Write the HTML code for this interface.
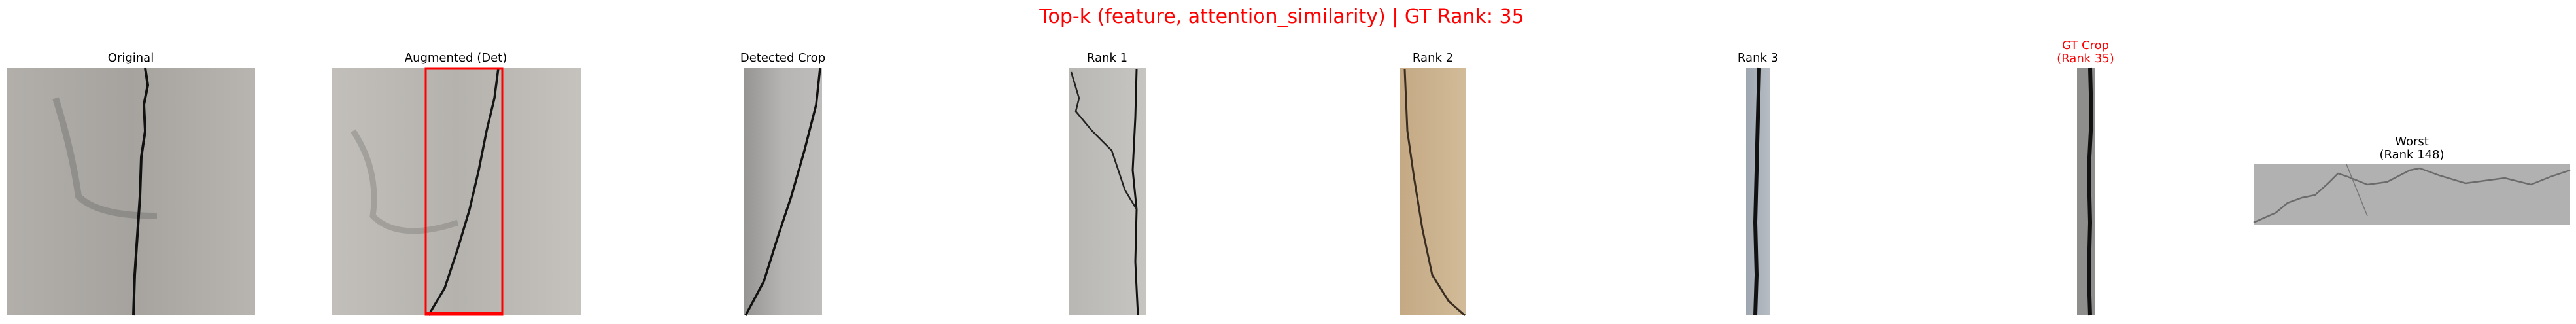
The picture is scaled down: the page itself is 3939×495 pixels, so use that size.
<!DOCTYPE html>
<html><head><meta charset="utf-8"><style>
html,body{margin:0;padding:0;background:#fff;}
svg{display:block;}
text{font-family:"DejaVu Sans","Liberation Sans",sans-serif;}
</style></head><body>
<svg width="3939" height="495" viewBox="0 0 3939 495">
<defs>
<linearGradient id="gOrig" x1="0" x2="1"><stop offset="0" stop-color="#b2afab"/><stop offset="0.5" stop-color="#a6a39f"/><stop offset="1" stop-color="#b8b5b1"/></linearGradient>
<linearGradient id="gAug" x1="0" x2="1"><stop offset="0" stop-color="#c2bfba"/><stop offset="0.5" stop-color="#b5b2ad"/><stop offset="1" stop-color="#c5c2bd"/></linearGradient>
<linearGradient id="gDet" x1="0" x2="1"><stop offset="0" stop-color="#959492"/><stop offset="0.5" stop-color="#b6b5b3"/><stop offset="1" stop-color="#bebdbb"/></linearGradient>
<linearGradient id="gR1" x1="0" x2="1"><stop offset="0" stop-color="#b8b7b3"/><stop offset="1" stop-color="#c6c5c1"/></linearGradient>
<linearGradient id="gR2" x1="0" x2="1"><stop offset="0" stop-color="#c4a984"/><stop offset="1" stop-color="#d2bb98"/></linearGradient>
<linearGradient id="gR3" x1="0" x2="1"><stop offset="0" stop-color="#9ea6b0"/><stop offset="1" stop-color="#b6bcc3"/></linearGradient>
</defs>

<text x="1960" y="35" font-size="30" fill="#ff0000" text-anchor="middle">Top-k (feature, attention_similarity) | GT Rank: 35</text>

<g>
<text x="200" y="94" font-size="18" text-anchor="middle">Original</text>
<rect x="10" y="104" width="380" height="378" fill="url(#gOrig)"/>
<path d="M85,150 Q110,230 120,300 Q150,330 240,330" stroke="#6a6866" stroke-width="10" fill="none" opacity="0.4"/>
<path d="M222,104 L226,130 L220,160 L222,200 L216,240 L214,300 L210,360 L206,420 L204,482" stroke="#111" stroke-width="4" fill="none"/>
</g>

<g>
<text x="697" y="94" font-size="18" text-anchor="middle">Augmented (Det)</text>
<rect x="507" y="104" width="381" height="378" fill="url(#gAug)"/>
<path d="M540,200 Q580,260 570,330 Q610,370 700,340" stroke="#7a7875" stroke-width="9" fill="none" opacity="0.4"/>
<path d="M762,104 L756,150 L744,200 L732,260 L718,320 L700,380 L680,440 L655,482" stroke="#151515" stroke-width="3.5" fill="none"/>
<rect x="651" y="105" width="117" height="376" fill="none" stroke="#ff0000" stroke-width="3"/>
<rect x="650" y="477" width="119" height="5" fill="#ff0000"/>
</g>

<g>
<text x="1197" y="94" font-size="18" text-anchor="middle">Detected Crop</text>
<rect x="1137" y="104" width="120" height="378" fill="url(#gDet)"/>
<path d="M1254,104 L1248,160 L1230,230 L1210,300 L1190,360 L1168,430 L1140,482" stroke="#111" stroke-width="3.5" fill="none"/>
</g>

<g>
<text x="1693" y="94" font-size="18" text-anchor="middle">Rank 1</text>
<rect x="1634" y="104" width="118" height="378" fill="url(#gR1)"/>
<path d="M1738,106 L1736,180 L1732,260 L1738,320 L1736,400 L1740,482" stroke="#111" stroke-width="3" fill="none"/>
<path d="M1638,110 L1650,150 L1645,170 L1670,200 L1700,230 L1720,290 L1738,320" stroke="#222" stroke-width="2.5" fill="none"/>
</g>

<g>
<text x="2191" y="94" font-size="18" text-anchor="middle">Rank 2</text>
<rect x="2141" y="104" width="100" height="378" fill="url(#gR2)"/>
<path d="M2148,106 L2152,200 L2162,270 L2175,350 L2190,420 L2215,460 L2240,482" stroke="#3a2e22" stroke-width="3" fill="none"/>
</g>

<g>
<text x="2688" y="94" font-size="18" text-anchor="middle">Rank 3</text>
<rect x="2670" y="104" width="36" height="378" fill="url(#gR3)"/>
<path d="M2690,104 L2688,180 L2686,260 L2684,340 L2686,420 L2684,482" stroke="#111" stroke-width="6" fill="none"/>
</g>

<g>
<text x="3189" y="75" font-size="18" fill="#ff0000" text-anchor="middle">GT Crop</text>
<text x="3189" y="95" font-size="18" fill="#ff0000" text-anchor="middle">(Rank 35)</text>
<rect x="3176" y="104" width="28" height="378" fill="#8e8e8c"/>
<path d="M3196,104 L3198,180 L3194,260 L3196,340 L3194,420 L3196,482" stroke="#111" stroke-width="6" fill="none"/>
</g>

<g>
<text x="3688" y="222" font-size="18" text-anchor="middle">Worst</text>
<text x="3688" y="242" font-size="18" text-anchor="middle">(Rank 148)</text>
<rect x="3446" y="251" width="484" height="93" fill="#b1b1b1"/>
<path d="M3446,340 L3480,325 L3498,310 L3520,302 L3540,298 L3560,280 L3575,265 L3590,270 L3620,282 L3650,278 L3685,260 L3700,257 L3730,268 L3770,280 L3800,276 L3830,272 L3870,282 L3900,270 L3930,260" stroke="#6b6b6b" stroke-width="2.5" fill="none"/>
<path d="M3588,251 L3620,330" stroke="#777" stroke-width="1.5" fill="none"/>
</g>
</svg>
</body></html>
